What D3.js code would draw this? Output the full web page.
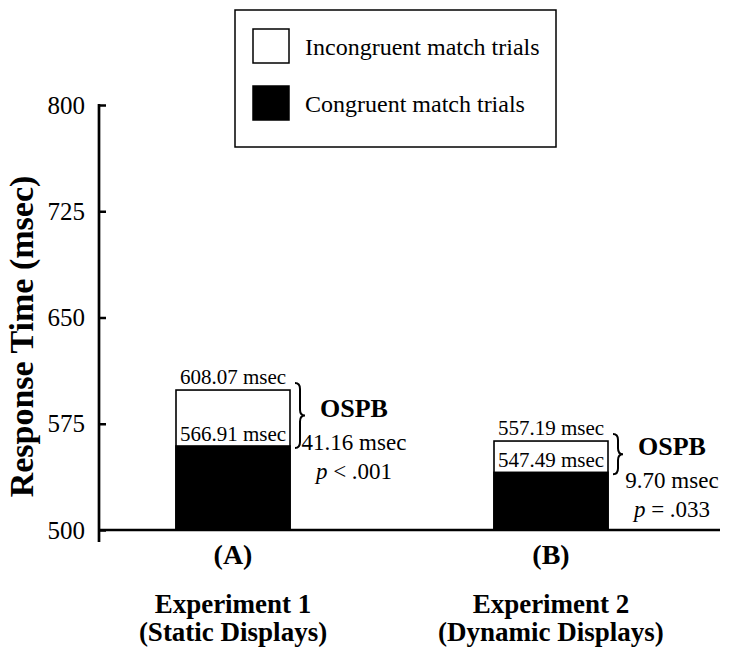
<!DOCTYPE html>
<html>
<head>
<meta charset="utf-8">
<script src="https://cdn.jsdelivr.net/npm/d3@7"></script>
<style>
  body { margin: 0; background: #fff; }
  svg text { font-family: "Liberation Serif", "Times New Roman", serif; fill: #000; }
</style>
</head>
<body>
<svg id="chart" width="731" height="650"></svg>
<script>
// values (bar tops), and the printed labels
var groups = ["A", "B"];
var incongruent = [598.8, 562.8];
var congruent = [559.3, 540.7];
var incongruentLabels = ["608.07 msec", "557.19 msec"];
var congruentLabels = ["566.91 msec", "547.49 msec"];
var ospbValues = ["41.16 msec", "9.70 msec"];
var pValues = [["<", ".001"], ["=", ".033"]];
var groupTitles = [["Experiment 1", "(Static Displays)"], ["Experiment 2", "(Dynamic Displays)"]];
var yTicks = [500, 575, 650, 725, 800];

var svg = d3.select("#chart");

var yScale = d3.scaleLinear()
  .domain([500, 800])
  .range([530, 105]);

var xScale = d3.scalePoint()
  .domain(groups)
  .range([233, 551]);

var barWidth = 114;

// y axis
var yAxis = d3.axisLeft(yScale)
  .tickValues(yTicks)
  .tickSizeInner(-7)
  .tickSizeOuter(0)
  .tickPadding(14)
  .tickFormat(d3.format("d"));

var yG = svg.append("g")
  .attr("transform", "translate(99,0)")
  .call(yAxis);
yG.select(".domain").remove();
yG.selectAll(".tick line").attr("stroke", "#000").attr("stroke-width", 2.5);
yG.selectAll(".tick text")
  .style("font-family", "'Liberation Serif', serif")
  .style("font-size", "25px")
  .attr("fill", "#000");

yG.append("line")
  .attr("x1", 0).attr("x2", 0)
  .attr("y1", yScale(800) - 1)
  .attr("y2", yScale(500) + 12)
  .attr("stroke", "#000")
  .attr("stroke-width", 2.7);

svg.append("text")
  .attr("transform", "translate(33," + ((yScale(500) + yScale(800)) / 2 + 19) + ") rotate(-90)")
  .attr("text-anchor", "middle")
  .style("font-size", "34px")
  .style("font-weight", "bold")
  .text("Response Time (msec)");

// bars
var bars = svg.selectAll(".group")
  .data(groups)
  .enter().append("g")
  .attr("class", "group");

bars.append("rect")
  .attr("x", function(d) { return xScale(d) - barWidth / 2; })
  .attr("y", function(d, i) { return yScale(incongruent[i]); })
  .attr("width", barWidth)
  .attr("height", function(d, i) { return yScale(500) - yScale(incongruent[i]); })
  .attr("fill", "#fff")
  .attr("stroke", "#000")
  .attr("stroke-width", 1.6);

bars.append("rect")
  .attr("x", function(d) { return xScale(d) - barWidth / 2; })
  .attr("y", function(d, i) { return yScale(congruent[i]); })
  .attr("width", barWidth)
  .attr("height", function(d, i) { return yScale(500) - yScale(congruent[i]); })
  .attr("fill", "#000")
  .attr("stroke", "#000")
  .attr("stroke-width", 1.6);

bars.append("text")
  .attr("x", function(d) { return xScale(d); })
  .attr("y", function(d, i) { return yScale(incongruent[i]) - 6; })
  .attr("text-anchor", "middle")
  .style("font-size", "21px")
  .text(function(d, i) { return incongruentLabels[i]; });

bars.append("text")
  .attr("x", function(d) { return xScale(d); })
  .attr("y", function(d, i) { return yScale(congruent[i]) - 5; })
  .attr("text-anchor", "middle")
  .style("font-size", "21px")
  .text(function(d, i) { return congruentLabels[i]; });

// curly braces for the OSPB difference
function bracePath(x0, y0, y1, w) {
  var ym = (y0 + y1) / 2, xm = x0 + w / 2, r = Math.min(6, (y1 - y0) / 6);
  return "M" + x0 + "," + y0 +
    " Q" + xm + "," + y0 + " " + xm + "," + (y0 + r) +
    " L" + xm + "," + (ym - r) +
    " Q" + xm + "," + ym + " " + (x0 + w) + "," + ym +
    " Q" + xm + "," + ym + " " + xm + "," + (ym + r) +
    " L" + xm + "," + (y1 - r) +
    " Q" + xm + "," + y1 + " " + x0 + "," + y1;
}

bars.append("path")
  .attr("d", function(d, i) {
    return bracePath(xScale(d) + barWidth / 2 + 5, yScale(incongruent[i]) - 7, yScale(congruent[i]) + 2, 10);
  })
  .attr("fill", "none")
  .attr("stroke", "#000")
  .attr("stroke-width", 2);

var statX = function(d) { return xScale(d) + barWidth / 2 + 64; };
var braceMid = function(d, i) { return (yScale(incongruent[i]) - 7 + yScale(congruent[i]) + 2) / 2; };

bars.append("text")
  .attr("x", statX)
  .attr("y", function(d, i) { return braceMid(d, i) + 1; })
  .attr("text-anchor", "middle")
  .style("font-size", "26px")
  .style("font-weight", "bold")
  .text("OSPB");

bars.append("text")
  .attr("x", statX)
  .attr("y", function(d, i) { return braceMid(d, i) + 34; })
  .attr("text-anchor", "middle")
  .style("font-size", "23px")
  .text(function(d, i) { return ospbValues[i]; });

var pText = bars.append("text")
  .attr("x", statX)
  .attr("y", function(d, i) { return braceMid(d, i) + 63; })
  .attr("text-anchor", "middle")
  .style("font-size", "23px");
pText.append("tspan").style("font-style", "italic").text("p");
pText.append("tspan").text(function(d, i) { return " " + pValues[i][0] + " " + pValues[i][1]; });

// baseline
svg.append("line")
  .attr("x1", 99).attr("x2", 720)
  .attr("y1", yScale(500)).attr("y2", yScale(500))
  .attr("stroke", "#000")
  .attr("stroke-width", 2.5);

// group labels
bars.append("text")
  .attr("x", function(d) { return xScale(d); })
  .attr("y", yScale(500) + 34)
  .attr("text-anchor", "middle")
  .style("font-size", "28px")
  .style("font-weight", "bold")
  .text(function(d) { return "(" + d + ")"; });

bars.each(function(d, i) {
  var t = d3.select(this).append("text")
    .attr("text-anchor", "middle")
    .style("font-size", "27px")
    .style("font-weight", "bold");
  groupTitles[i].forEach(function(line, j) {
    t.append("tspan")
      .attr("x", xScale(d))
      .attr("y", yScale(500) + 83 + j * 28)
      .text(line);
  });
});

// legend
var legend = svg.append("g").attr("transform", "translate(235,10)");
legend.append("rect")
  .attr("width", 321).attr("height", 137)
  .attr("fill", "#fff")
  .attr("stroke", "#000")
  .attr("stroke-width", 1.5);

var legendItems = [
  { label: "Incongruent match trials", fill: "#fff" },
  { label: "Congruent match trials", fill: "#000" }
];
var li = legend.selectAll(".item")
  .data(legendItems)
  .enter().append("g")
  .attr("transform", function(d, i) { return "translate(18," + (19 + i * 57) + ")"; });
li.append("rect")
  .attr("width", 36).attr("height", 34)
  .attr("fill", function(d) { return d.fill; })
  .attr("stroke", "#000")
  .attr("stroke-width", 1.5);
li.append("text")
  .attr("x", 52).attr("y", 26)
  .style("font-size", "24px")
  .text(function(d) { return d.label; });
</script>
</body>
</html>
